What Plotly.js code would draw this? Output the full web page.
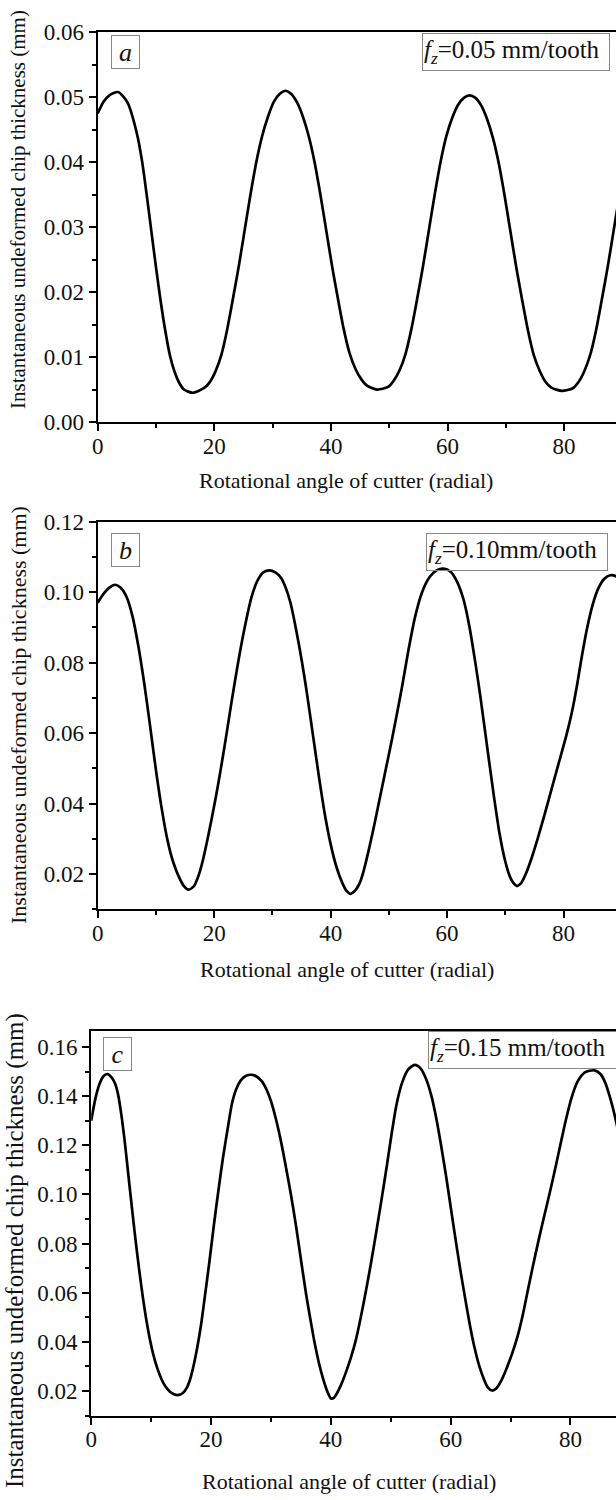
<!DOCTYPE html>
<html>
<head>
<meta charset="utf-8">
<script src="https://cdn.plot.ly/plotly-3.0.1.min.js"></script>
<style>
html,body{margin:0;padding:0;background:#fff;overflow:hidden;}
#chart{width:616px;height:1500px;}
</style>
</head>
<body>
<div id="chart"></div>
<script>
// ---------- data ----------
var angleA = [0, 1, 2, 3.5, 5.1, 6.7, 7.6, 8.4, 9.2, 10.0, 10.8, 11.6, 12.4, 13.2, 14.0, 14.8, 16.3,
  18.2, 19.2, 20.2, 21.2, 22.2, 23.2, 24.2, 25.2, 26.2, 27.2, 28.2, 29.2, 30.2, 31.2, 32.2,
  33.2, 34.2, 35.2, 36.2, 37.2, 38.2, 39.2, 40.2, 41.2, 42.2, 43.2, 44.2, 45.2, 46.2, 47.9,
  49.8, 50.8, 51.8, 52.8, 53.8, 54.8, 55.8, 56.8, 57.8, 58.8, 59.8, 60.8, 61.8, 62.8, 63.8,
  64.8, 65.8, 66.8, 67.8, 68.8, 69.8, 70.8, 71.8, 72.8, 73.8, 74.8, 75.8, 76.8, 77.8, 79.6,
  81.5, 82.5, 83.5, 84.5, 85.5, 86.5, 87.5, 88.5, 89.5];
var thickA = [0.0475, 0.0493, 0.0503, 0.0508, 0.0492, 0.0445, 0.0402, 0.0350, 0.0294, 0.0238, 0.0186, 0.0140, 0.0102, 0.0077, 0.0060, 0.0050, 0.0045,
  0.0052, 0.0061, 0.0078, 0.0103, 0.0142, 0.0190, 0.0240, 0.0295, 0.0350, 0.0400, 0.0440, 0.0470, 0.0493, 0.0505, 0.0510,
  0.0505, 0.0492, 0.0470, 0.0440, 0.0400, 0.0350, 0.0295, 0.0240, 0.0190, 0.0143, 0.0106, 0.0082, 0.0066, 0.0056, 0.0050,
  0.0054, 0.0064, 0.0080, 0.0105, 0.0143, 0.0190, 0.0240, 0.0295, 0.0350, 0.0400, 0.0440, 0.0468, 0.0488, 0.0499, 0.0503,
  0.0499, 0.0487, 0.0466, 0.0437, 0.0398, 0.0348, 0.0293, 0.0238, 0.0188, 0.0141, 0.0103, 0.0079, 0.0062, 0.0053, 0.0048,
  0.0052, 0.0062, 0.0079, 0.0104, 0.0142, 0.0190, 0.0240, 0.0295, 0.0350];

var angleB = [0, 1, 2, 3, 4, 5, 6, 7, 8, 9, 10, 11, 12, 13, 14, 14.8, 15.6,
  16.5, 17.2, 18, 19, 20.2, 21, 22, 23, 24, 25, 26.4, 27.5, 28.5, 29.5,
  30.5, 31.5, 32.3, 33.1, 34, 35.1, 36, 37, 38, 39, 40, 41, 42, 42.7, 43.4,
  44.3, 45.0, 45.6, 46.5, 47.5, 48.5, 49.5, 50.5, 51.5, 52.3, 53.3, 54.5, 55.7, 57, 58.2, 59.4,
  60.6, 61.7, 62.8, 63.8, 64.8, 65.7, 66.8, 68.0, 69.0, 70.0, 70.8, 71.4, 72.0,
  72.7, 73.5, 74.5, 75.5, 76.5, 77.5, 78.5, 79.5, 80.5, 81.5, 82.3, 83.0, 84.0, 85.0, 86.0, 87.0, 88.0, 89.0, 90.0];
var thickB = [0.0970, 0.0995, 0.1013, 0.1021, 0.1012, 0.0985, 0.0930, 0.0845, 0.0740, 0.0620, 0.0495, 0.0385, 0.0295, 0.0232, 0.0190, 0.0166, 0.0156,
  0.0165, 0.0190, 0.0235, 0.0310, 0.0411, 0.0485, 0.0585, 0.0690, 0.0790, 0.0880, 0.0985, 0.1035, 0.1057, 0.1062,
  0.1056, 0.1040, 0.1012, 0.0970, 0.0900, 0.0800, 0.0705, 0.0590, 0.0475, 0.0370, 0.0285, 0.0220, 0.0175, 0.0153, 0.0144,
  0.0155, 0.0175, 0.0205, 0.0265, 0.0340, 0.0420, 0.0500, 0.0580, 0.0665, 0.0735, 0.0830, 0.0930, 0.1000, 0.1043, 0.1062, 0.1067,
  0.1058, 0.1030, 0.0980, 0.0905, 0.0805, 0.0705, 0.0570, 0.0425, 0.0315, 0.0235, 0.0192, 0.0174, 0.0166,
  0.0174, 0.0200, 0.0245, 0.0298, 0.0355, 0.0415, 0.0475, 0.0535, 0.0595, 0.0665, 0.0735, 0.0805, 0.0895, 0.0965, 0.1012, 0.1038, 0.1048, 0.1045, 0.1030];

var angleC = [0, 0.7, 1.4, 2.0, 2.7, 3.4, 4.0, 4.5, 5.0, 5.6, 6.2, 6.8, 7.4, 8.0, 8.6, 9.2, 9.8, 10.4, 11.0, 11.7, 12.4, 13.1, 13.8, 14.6,
  15.3, 16.0, 16.6, 17.2, 17.8, 18.4, 19.0, 19.7, 20.4, 21.2, 22.0, 22.8, 23.5, 24.2, 25.0, 25.8, 26.7,
  27.6, 28.5, 29.3, 30.0, 30.8, 31.6, 32.4, 33.3, 34.2, 35.1, 35.9, 36.6, 37.3, 38.0, 38.7, 39.3, 39.7, 40.0,
  40.5, 41.0, 41.7, 42.5, 43.4, 44.2, 45.0, 45.8, 46.7, 47.6, 48.5, 49.4, 50.2, 51.0, 51.9, 52.9, 54.0,
  55.0, 55.9, 56.8, 57.6, 58.4, 59.2, 60.0, 60.8, 61.6, 62.4, 63.2, 64.0, 64.8, 65.6, 66.2, 66.9,
  67.6, 68.4, 69.3, 70.3, 71.2, 72.0, 72.8, 73.7, 74.6, 75.6, 76.6, 77.5, 78.3, 79.2, 80.2, 81.2, 82.4, 84.0,
  85.0, 85.8, 86.6, 87.4, 88.2];
var thickC = [0.1300, 0.1390, 0.1450, 0.1480, 0.1490, 0.1476, 0.1450, 0.1405, 0.1330, 0.1215, 0.1080, 0.0945, 0.0815, 0.0695, 0.0585, 0.0490, 0.0410, 0.0345, 0.0295, 0.0250, 0.0218, 0.0198, 0.0187, 0.0184,
  0.0192, 0.0215, 0.0255, 0.0315, 0.0390, 0.0480, 0.0590, 0.0720, 0.0860, 0.1010, 0.1150, 0.1270, 0.1370, 0.1428, 0.1465, 0.1482, 0.1487,
  0.1480, 0.1460, 0.1425, 0.1380, 0.1310, 0.1225, 0.1125, 0.1005, 0.0870, 0.0720, 0.0590, 0.0490, 0.0395, 0.0315, 0.0250, 0.0205, 0.0182, 0.0170,
  0.0172, 0.0190, 0.0225, 0.0275, 0.0340, 0.0410, 0.0500, 0.0600, 0.0720, 0.0850, 0.0985, 0.1125, 0.1255, 0.1370, 0.1455, 0.1508, 0.1527,
  0.1512, 0.1470, 0.1400, 0.1310, 0.1200, 0.1080, 0.0950, 0.0820, 0.0695, 0.0580, 0.0470, 0.0375, 0.0300, 0.0245, 0.0215, 0.0202,
  0.0210, 0.0240, 0.0290, 0.0355, 0.0425, 0.0505, 0.0600, 0.0705, 0.0805, 0.0910, 0.1013, 0.1110, 0.1200, 0.1300, 0.1395, 0.1460, 0.1497, 0.1505,
  0.1490, 0.1455, 0.1395, 0.1320, 0.1230];

var panelLetters = ["a", "b", "c"];
var feedLabels = ["=0.05 mm/tooth", "=0.10mm/tooth", "=0.15 mm/tooth"];
var xTitle = "Rotational angle of cutter (radial)";
var yTitle = "Instantaneous undeformed chip thickness (mm)";

// ---------- styling ----------
var W = 616, H = 1500;
var serif = "Liberation Serif";
var ink = "#111";
function px(x){ return x / W; }
function py(y){ return 1 - y / H; }

function xAxis(domain, range, anchor){
  return {domain: domain, range: range, anchor: anchor, showline: true, linecolor: "#000", linewidth: 2,
    mirror: true, ticks: "outside", ticklen: 7, tickwidth: 2, tickcolor: "#000",
    dtick: 20, tick0: 0, showgrid: false, zeroline: false, ticklabelstandoff: -5,
    tickfont: {family: serif, size: 23, color: ink},
    minor: {ticks: "outside", ticklen: 4, tickwidth: 2, tickcolor: "#000", dtick: 10, showgrid: false}};
}
function yAxis(domain, range, anchor, dtick, minorDtick){
  return {domain: domain, range: range, anchor: anchor, showline: true, linecolor: "#000", linewidth: 2,
    mirror: false, ticks: "outside", ticklen: 7, tickwidth: 2, tickcolor: "#000",
    dtick: dtick, tick0: 0, tickformat: ".2f", showgrid: false, zeroline: false,
    tickfont: {family: serif, size: 23, color: ink},
    minor: {ticks: "outside", ticklen: 4, tickwidth: 2, tickcolor: "#000", dtick: minorDtick, showgrid: false}};
}

var lineStyle = {color: "#000", width: 2.7, shape: "spline", smoothing: 0.7};
var traces = [
  {x: angleA, y: thickA, xaxis: "x", yaxis: "y", mode: "lines", line: lineStyle, showlegend: false, hoverinfo: "skip"},
  {x: angleB, y: thickB, xaxis: "x2", yaxis: "y2", mode: "lines", line: lineStyle, showlegend: false, hoverinfo: "skip"},
  {x: angleC, y: thickC, xaxis: "x3", yaxis: "y3", mode: "lines", line: lineStyle, showlegend: false, hoverinfo: "skip"}
];

function letterBox(i, left, top){
  return {xref: "paper", yref: "paper", x: px(left), y: py(top), xanchor: "left", yanchor: "top",
    text: "<i>" + panelLetters[i] + "</i>", showarrow: false, align: "center",
    font: {family: serif, size: 26, color: ink}, width: 27, height: 32,
    bordercolor: "#888", borderwidth: 1, borderpad: 0, bgcolor: "rgba(0,0,0,0)"};
}
function feedBox(i, left, top, w){
  return {xref: "paper", yref: "paper", x: px(left), y: py(top), xanchor: "left", yanchor: "top",
    text: "<i>f</i><sub><i>z</i></sub>" + feedLabels[i], showarrow: false, align: "left",
    font: {family: serif, size: 25, color: ink}, width: w, height: 34,
    bordercolor: "#888", borderwidth: 1, borderpad: 1, bgcolor: "rgba(0,0,0,0)"};
}
function yTitleAnn(cx, cy, size){
  return {xref: "paper", yref: "paper", x: px(cx), y: py(cy), xanchor: "center", yanchor: "middle",
    text: yTitle, textangle: -90, showarrow: false, font: {family: serif, size: size, color: ink}};
}
function xTitleAnn(cx, cy){
  return {xref: "paper", yref: "paper", x: px(cx), y: py(cy), xanchor: "center", yanchor: "middle",
    text: xTitle, showarrow: false, font: {family: serif, size: 22, color: ink}};
}

var layout = {
  width: W, height: H, margin: {l: 0, r: 0, t: 0, b: 0},
  font: {family: serif, color: ink},
  paper_bgcolor: "#fff", plot_bgcolor: "#fff", showlegend: false,
  xaxis:  xAxis([px(97.7), 1], [0, 88.9], "y"),
  yaxis:  yAxis([py(422), py(32.3)], [0, 0.06], "x", 0.01, 0.005),
  xaxis2: xAxis([px(97.7), 1], [0, 89.0], "y2"),
  yaxis2: yAxis([py(909.3), py(521.7)], [0.01, 0.12], "x2", 0.02, 0.01),
  xaxis3: xAxis([px(91.2), 1], [0, 87.6], "y3"),
  yaxis3: yAxis([py(1415.6), py(1031)], [0.01, 0.1665], "x3", 0.02, 0.01),
  annotations: [
    letterBox(0, 111, 35), feedBox(0, 422, 33, 184),
    letterBox(1, 111, 533), feedBox(1, 426, 533, 178),
    letterBox(2, 103, 1037), feedBox(2, 427.5, 1031, 200),
    yTitleAnn(18, 210, 21), yTitleAnn(18, 715, 22), yTitleAnn(15, 1251, 25),
    xTitleAnn(346, 480), xTitleAnn(347, 970), xTitleAnn(349, 1481)
  ]
};

Plotly.newPlot("chart", traces, layout, {displayModeBar: false, staticPlot: true});
</script>
</body>
</html>
